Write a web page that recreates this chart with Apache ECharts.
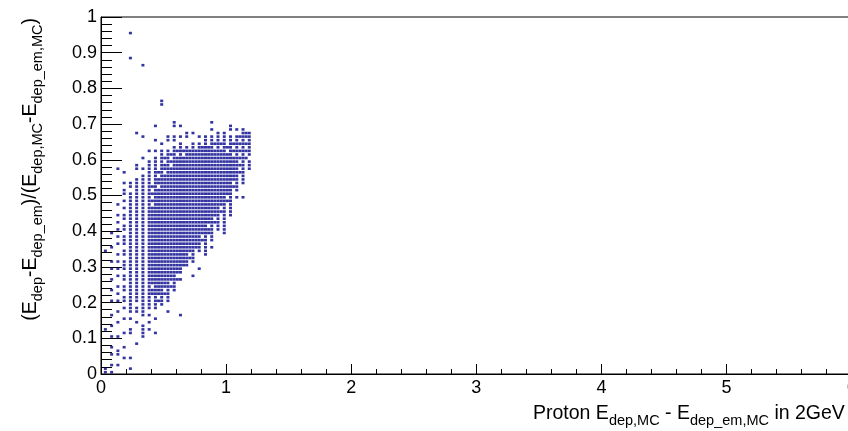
<!DOCTYPE html>
<html><head><meta charset="utf-8">
<script src="https://cdn.jsdelivr.net/npm/echarts@6/dist/echarts.min.js"></script>
<style>html,body{margin:0;padding:0;background:#fff}#c{width:848px;height:431px}</style>
</head><body><div id="c"></div>
<script>
// x positions of the main point columns (GeV)
const xColumns = [.035,.085,.135,.185,.235,.285,.335,.385,.435,.485,.535,.585,.635,.685,.735,.785,.835,.885,.935,.985,1.035,1.085,1.135,1.185];
// y values read in each main column
const yCol00 = [.005,.015,.125,.345];
const yCol01 = [.005,.025,.055,.075,.105,.135,.165,.205,.235,.265,.295,.315,.355,.395];
const yCol02 = [.025,.055,.065,.105,.145,.175,.205,.225,.245,.275,.295,.315,.335,.365,.385,.405,.425,.445,.475,.575];
const yCol03 = [.045,.075,.115,.155,.185,.205,.215,.235,.245,.265,.275,.295,.305,.315,.335,.345,.365,.375,.385,.405,.415,.435,.445,.465,.485,.505,.515,.535,.565];
const yCol04 = [.015,.045,.115,.125,.155,.175,.185,.195,.205,.215,.225,.235,.245,.255,.265,.275,.285,.295,.305,.315,.325,.335,.345,.355,.365,.375,.385,.395,.405,.415,.425,.435,.445,.455,.465,.475,.485,.495,.505,.525,.535,.885,.955];
const yCol05 = [.085,.145,.175,.185,.205,.215,.225,.235,.245,.255,.265,.275,.285,.295,.305,.315,.325,.335,.345,.355,.365,.375,.385,.395,.405,.415,.425,.435,.445,.455,.465,.475,.485,.495,.505,.515,.525,.535,.545,.575,.585,.675];
const yCol06 = [.105,.115,.125,.135,.165,.175,.185,.195,.205,.215,.225,.235,.245,.255,.265,.275,.285,.295,.305,.315,.325,.335,.345,.355,.365,.375,.385,.395,.405,.415,.425,.435,.445,.455,.465,.475,.485,.495,.505,.515,.525,.535,.545,.555,.575,.605,.665,.865];
const yCol07 = [.125,.145,.165,.185,.195,.205,.215,.225,.235,.245,.255,.265,.275,.285,.295,.305,.315,.325,.335,.345,.355,.365,.375,.385,.395,.405,.415,.425,.435,.445,.455,.465,.475,.485,.495,.505,.515,.525,.535,.545,.555,.565,.575,.585,.595,.625];
const yCol08 = [.115,.155,.185,.195,.205,.215,.225,.235,.245,.255,.265,.275,.285,.295,.305,.315,.325,.335,.345,.355,.365,.375,.385,.395,.405,.415,.425,.435,.445,.455,.465,.475,.485,.495,.505,.515,.525,.535,.545,.555,.565,.575,.585,.595,.605,.625,.655,.695];
const yCol09 = [.195,.205,.215,.225,.235,.245,.255,.265,.275,.285,.295,.305,.315,.325,.335,.345,.355,.365,.375,.385,.395,.405,.415,.425,.435,.445,.455,.465,.475,.485,.495,.505,.515,.525,.535,.545,.555,.565,.575,.585,.595,.605,.615,.625,.645,.755,.765];
const yCol10 = [.175,.205,.215,.225,.235,.245,.255,.265,.275,.285,.295,.305,.315,.325,.335,.345,.355,.365,.375,.385,.395,.405,.415,.425,.435,.445,.455,.465,.475,.485,.495,.505,.515,.525,.535,.545,.555,.565,.575,.585,.595,.605,.615,.625,.655,.665];
const yCol11 = [.235,.245,.255,.265,.275,.285,.295,.305,.315,.325,.335,.345,.355,.365,.375,.385,.395,.405,.415,.425,.435,.445,.455,.465,.475,.485,.495,.505,.515,.525,.535,.545,.555,.565,.575,.585,.595,.605,.615,.625,.635,.655,.665,.695,.705];
const yCol12 = [.165,.265,.285,.295,.305,.315,.325,.335,.345,.355,.365,.375,.385,.395,.405,.415,.425,.435,.445,.455,.465,.475,.485,.495,.505,.515,.525,.535,.545,.555,.565,.575,.585,.595,.605,.615,.625,.635,.645,.665,.695];
const yCol13 = [.305,.315,.325,.335,.345,.355,.365,.375,.385,.395,.405,.415,.425,.435,.445,.455,.465,.475,.485,.495,.505,.515,.525,.535,.545,.555,.565,.575,.585,.595,.605,.615,.625,.635,.665,.675];
const yCol14 = [.275,.315,.325,.335,.345,.355,.365,.375,.385,.395,.405,.415,.425,.435,.445,.455,.465,.475,.485,.495,.505,.515,.525,.535,.545,.555,.565,.575,.585,.595,.605,.615,.625,.635,.645,.675];
const yCol15 = [.295,.345,.355,.365,.375,.385,.395,.405,.415,.425,.435,.445,.455,.465,.475,.485,.495,.505,.515,.525,.535,.545,.555,.565,.575,.585,.595,.605,.615,.625,.635,.645,.665];
const yCol16 = [.335,.345,.355,.365,.375,.385,.395,.405,.415,.425,.435,.445,.455,.465,.475,.485,.495,.505,.515,.525,.535,.545,.555,.565,.575,.585,.595,.605,.615,.625,.635,.645,.655,.665];
const yCol17 = [.355,.375,.385,.395,.405,.415,.425,.435,.445,.455,.465,.475,.485,.495,.505,.515,.525,.535,.545,.555,.565,.575,.585,.595,.605,.615,.625,.635,.645,.655,.665,.685,.705];
const yCol18 = [.405,.415,.425,.435,.445,.455,.465,.475,.485,.495,.505,.515,.525,.535,.545,.555,.565,.575,.585,.595,.605,.615,.625,.635,.645,.655,.665,.675];
const yCol19 = [.395,.405,.415,.425,.435,.445,.455,.465,.475,.485,.495,.505,.515,.525,.535,.545,.555,.565,.575,.585,.595,.605,.615,.625,.635,.645,.655,.665,.675];
const yCol20 = [.445,.455,.465,.475,.485,.495,.505,.515,.525,.535,.545,.555,.565,.575,.585,.595,.605,.615,.625,.635,.645,.655,.665,.685,.695];
const yCol21 = [.495,.515,.525,.535,.545,.555,.565,.575,.585,.595,.605,.615,.625,.635,.645,.655,.665,.685];
const yCol22 = [.495,.535,.545,.555,.565,.575,.585,.595,.605,.615,.625,.635,.645,.655,.665,.675,.685];
const yCol23 = [.575,.585,.595,.615,.625,.635,.645,.655,.665,.675];
const yColumns = [yCol00,yCol01,yCol02,yCol03,yCol04,yCol05,yCol06,yCol07,yCol08,yCol09,yCol10,yCol11,yCol12,yCol13,yCol14,yCol15,yCol16,yCol17,yCol18,yCol19,yCol20,yCol21,yCol22,yCol23];

// x positions of the in-between columns seen in the dense core
const xMidColumns = [.41,.46,.51,.56,.61,.66,.71,.76,.81,.86,.91,.96,1.01,1.06,1.11,1.16];
const yMid07 = [.225,.235,.255,.265,.275,.285,.295,.305,.315,.325,.335,.345,.355,.365,.375,.385,.395,.405,.415,.425,.435,.445,.455,.465,.485,.505,.525];
const yMid08 = [.205,.225,.235,.245,.255,.265,.275,.285,.295,.305,.315,.325,.335,.345,.355,.365,.375,.385,.395,.405,.415,.425,.435,.445,.455,.465,.475,.485,.495,.505,.515,.535,.545,.565];
const yMid09 = [.225,.245,.255,.265,.275,.285,.295,.305,.315,.325,.335,.345,.355,.365,.375,.385,.395,.405,.415,.425,.435,.445,.455,.465,.475,.485,.495,.505,.515,.525,.535,.545,.555,.575,.585,.605];
const yMid10 = [.245,.265,.275,.285,.295,.305,.315,.325,.335,.345,.355,.365,.375,.385,.395,.405,.415,.425,.435,.445,.455,.465,.475,.485,.495,.505,.515,.525,.535,.545,.555,.565,.575,.595,.615];
const yMid11 = [.265,.285,.295,.305,.315,.325,.335,.345,.355,.365,.375,.385,.395,.405,.415,.425,.435,.445,.455,.465,.475,.485,.495,.505,.515,.525,.535,.545,.555,.565,.575,.585,.595,.605,.625];
const yMid12 = [.305,.315,.325,.335,.345,.355,.365,.375,.385,.395,.405,.415,.425,.435,.445,.455,.465,.475,.485,.495,.505,.515,.525,.535,.545,.555,.565,.575,.585,.595,.605,.625];
const yMid13 = [.325,.345,.355,.365,.375,.385,.395,.405,.415,.425,.435,.445,.455,.465,.475,.485,.495,.505,.515,.525,.535,.545,.555,.565,.575,.585,.595,.605,.615,.625];
const yMid14 = [.355,.365,.375,.385,.395,.405,.415,.425,.435,.445,.455,.465,.475,.485,.495,.505,.515,.525,.535,.545,.555,.565,.575,.585,.595,.605,.615,.625];
const yMid15 = [.375,.395,.405,.415,.425,.435,.445,.455,.465,.475,.485,.495,.505,.515,.525,.535,.545,.555,.565,.575,.585,.595,.605,.615,.625,.635];
const yMid16 = [.395,.405,.425,.435,.445,.455,.465,.475,.485,.495,.505,.515,.525,.535,.545,.555,.565,.575,.585,.595,.605,.615,.625,.635];
const yMid17 = [.425,.445,.455,.465,.475,.485,.495,.505,.515,.525,.535,.545,.555,.565,.575,.585,.595,.605,.615,.625,.645];
const yMid18 = [.455,.475,.485,.495,.505,.515,.525,.535,.545,.555,.565,.575,.585,.595,.605,.615,.625,.645];
const yMid19 = [.485,.505,.515,.525,.535,.545,.555,.565,.575,.585,.595,.605,.615,.635];
const yMid20 = [.525,.545,.555,.565,.575,.585,.595,.605,.625,.645];
const yMid21 = [.565,.585,.605,.625,.645,.665];
const yMid22 = [.605,.625,.645,.665,.675];
const yMidColumns = [yMid07,yMid08,yMid09,yMid10,yMid11,yMid12,yMid13,yMid14,yMid15,yMid16,yMid17,yMid18,yMid19,yMid20,yMid21,yMid22];

const FONT = '"Liberation Sans", Arial, Helvetica, sans-serif';
const points = [];
yColumns.forEach((col, i) => col.forEach(y => points.push([xColumns[i], y])));
yMidColumns.forEach((col, i) => col.forEach(y => points.push([xMidColumns[i], y])));

const rich = {
  m: { fontSize: 19.5, fontFamily: FONT, fill: '#000', lineHeight: 30, verticalAlign: 'middle' },
  s: { fontSize: 14.5, fontFamily: FONT, fill: '#000', lineHeight: 30, verticalAlign: 'bottom', padding: [0, 0, 1, 0] }
};

const chart = echarts.init(document.getElementById('c'), null, { renderer: 'canvas' });
chart.setOption({
  animation: false,
  backgroundColor: '#fff',
  grid: { left: 101, right: -254, top: 17, bottom: 57, show: true, borderColor: '#000', borderWidth: 1, backgroundColor: 'transparent', outerBoundsMode: 'none', containLabel: false },
  xAxis: {
    type: 'value', min: 0, max: 8, interval: 1,
    axisLine: { show: true, lineStyle: { color: '#000', width: 1 } },
    axisTick: { show: true, inside: true, length: 10, lineStyle: { color: '#000' } },
    minorTick: { show: true, splitNumber: 5, length: 5, lineStyle: { color: '#000' } },
    splitLine: { show: false },
    axisLabel: { fontSize: 18, color: '#000', fontFamily: FONT, margin: 5 }
  },
  yAxis: {
    type: 'value', min: 0, max: 1, interval: 0.1,
    axisLine: { show: true, lineStyle: { color: '#000', width: 1 } },
    axisTick: { show: true, inside: true, length: 21, lineStyle: { color: '#000' } },
    minorTick: { show: true, splitNumber: 5, length: 11, lineStyle: { color: '#000' } },
    splitLine: { show: false },
    axisLabel: { fontSize: 18, color: '#000', fontFamily: FONT, margin: 4 }
  },
  series: [{
    type: 'scatter', data: points, symbol: 'rect', symbolSize: [3, 2.6], silent: true,
    itemStyle: { color: '#00008b' }
  }],
  graphic: [
    { type: 'text', x: 533, y: 414, silent: true,
      style: { text: '{m|Proton E}{s|dep,MC}{m| - E}{s|dep_em,MC}{m| in 2GeV}', rich: rich, align: 'left', verticalAlign: 'middle' } },
    { type: 'text', x: 31, y: 18, rotation: Math.PI / 2, silent: true,
      style: { text: '{m|(E}{s|dep}{m|-E}{s|dep_em}{m|)/(E}{s|dep,MC}{m|-E}{s|dep_em,MC}{m|)}', rich: rich, align: 'right', verticalAlign: 'middle' } }
  ]
});
</script></body></html>
